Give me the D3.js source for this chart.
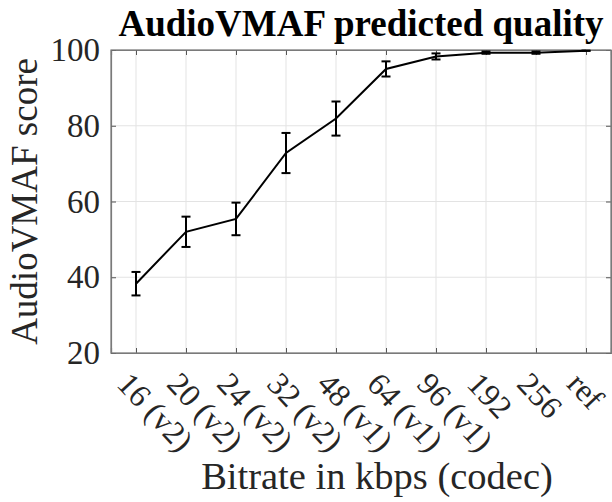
<!DOCTYPE html>
<html>
<head>
<meta charset="utf-8">
<script src="https://cdn.jsdelivr.net/npm/d3@7/dist/d3.min.js"></script>
<style>
html,body{margin:0;padding:0;background:#fff;}
svg{display:block;}
text{font-family:"Liberation Serif","Times New Roman",Times,serif;}
</style>
</head>
<body>
<svg id="chart" width="612" height="502"></svg>
<script>
const categories = ["16 (v2)","20 (v2)","24 (v2)","32 (v2)","48 (v1)","64 (v1)","96 (v1)","192","256","ref"];
const scores = [38.3, 52.0, 55.4, 72.8, 81.9, 95.0, 98.3, 99.3, 99.3, 99.8];
const errors = [3.1, 4.0, 4.3, 5.3, 4.5, 2.0, 0.8, 0.3, 0.3, 0.0];
const yTicks = [20, 40, 60, 80, 100];
const titleText = "AudioVMAF predicted quality";
const xLabel = "Bitrate in kbps (codec)";
const yLabel = "AudioVMAF score";

const svg = d3.select("#chart");
const L = 111, R = 611, T = 50, B = 353;
const x = d3.scalePoint().domain(categories).range([L, R]).padding(0.5);
const y = d3.scaleLinear().domain([20, 100]).range([B, T]);

// grid
const g = svg.append("g");
g.selectAll(".gx").data(categories).enter().append("line")
  .attr("x1", d => x(d)).attr("x2", d => x(d)).attr("y1", T).attr("y2", B)
  .attr("stroke", "#e3e3e3").attr("stroke-width", 1);
g.selectAll(".gy").data(yTicks).enter().append("line")
  .attr("x1", L).attr("x2", R).attr("y1", d => y(d)).attr("y2", d => y(d))
  .attr("stroke", "#e3e3e3").attr("stroke-width", 1);

// axes with inward ticks on all sides
const tickLen = 5;
const axColor = "#7a7a7a";
const xb = svg.append("g").attr("transform", `translate(0,${B})`)
  .call(d3.axisBottom(x).tickSize(-tickLen).tickFormat(""));
const xt = svg.append("g").attr("transform", `translate(0,${T})`)
  .call(d3.axisTop(x).tickSize(-tickLen).tickFormat(""));
const yl = svg.append("g").attr("transform", `translate(${L},0)`)
  .call(d3.axisLeft(y).tickValues(yTicks).tickSize(-tickLen).tickFormat(""));
const yr = svg.append("g").attr("transform", `translate(${R},0)`)
  .call(d3.axisRight(y).tickValues(yTicks).tickSize(-tickLen).tickFormat(""));
[xb, xt, yl, yr].forEach(a => {
  a.select(".domain").attr("stroke", axColor).attr("stroke-width", 1.2);
  a.selectAll(".tick line").attr("stroke", "#555").attr("stroke-width", 1);
});
svg.append("rect").attr("x", L).attr("y", T).attr("width", R - L).attr("height", B - T)
  .attr("fill", "none").attr("stroke", axColor).attr("stroke-width", 1.2);

// y tick labels
svg.selectAll(".ytl").data(yTicks).enter().append("text")
  .attr("x", L - 11).attr("y", d => y(d)).attr("dy", "0.34em")
  .attr("text-anchor", "end").attr("font-size", 33).attr("fill", "#262626")
  .text(d => d);

// x tick labels, rotated
svg.selectAll(".xtl").data(categories).enter().append("text")
  .attr("transform", d => `translate(${x(d) - 4},370) rotate(47)`)
  .attr("dy", "0.7em").attr("text-anchor", "start")
  .attr("font-size", 32).attr("fill", "#262626")
  .text(d => d);

// line
const line = d3.line().x((d, i) => x(categories[i])).y(d => y(d));
svg.append("path").datum(scores).attr("d", line)
  .attr("fill", "none").attr("stroke", "#000").attr("stroke-width", 2);

// error bars
const cap = 4.5;
const eb = svg.append("g").attr("stroke", "#000").attr("stroke-width", 2);
categories.forEach((c, i) => {
  const cx = x(c), lo = y(scores[i] - errors[i]), hi = y(scores[i] + errors[i]);
  eb.append("line").attr("x1", cx).attr("x2", cx).attr("y1", lo).attr("y2", hi);
  eb.append("line").attr("x1", cx - cap).attr("x2", cx + cap).attr("y1", lo).attr("y2", lo);
  eb.append("line").attr("x1", cx - cap).attr("x2", cx + cap).attr("y1", hi).attr("y2", hi);
});

// title
svg.append("text").attr("x", 361).attr("y", 36).attr("text-anchor", "middle")
  .attr("font-size", 37).attr("font-weight", "bold").attr("fill", "#000")
  .text(titleText);

// x label
svg.append("text").attr("x", 377).attr("y", 489).attr("text-anchor", "middle")
  .attr("font-size", 38.5).attr("fill", "#262626").text(xLabel);

// y label
svg.append("text").attr("transform", `translate(37,${(T + B) / 2}) rotate(-90)`)
  .attr("text-anchor", "middle").attr("font-size", 37).attr("fill", "#262626")
  .text(yLabel);
</script>
</body>
</html>
